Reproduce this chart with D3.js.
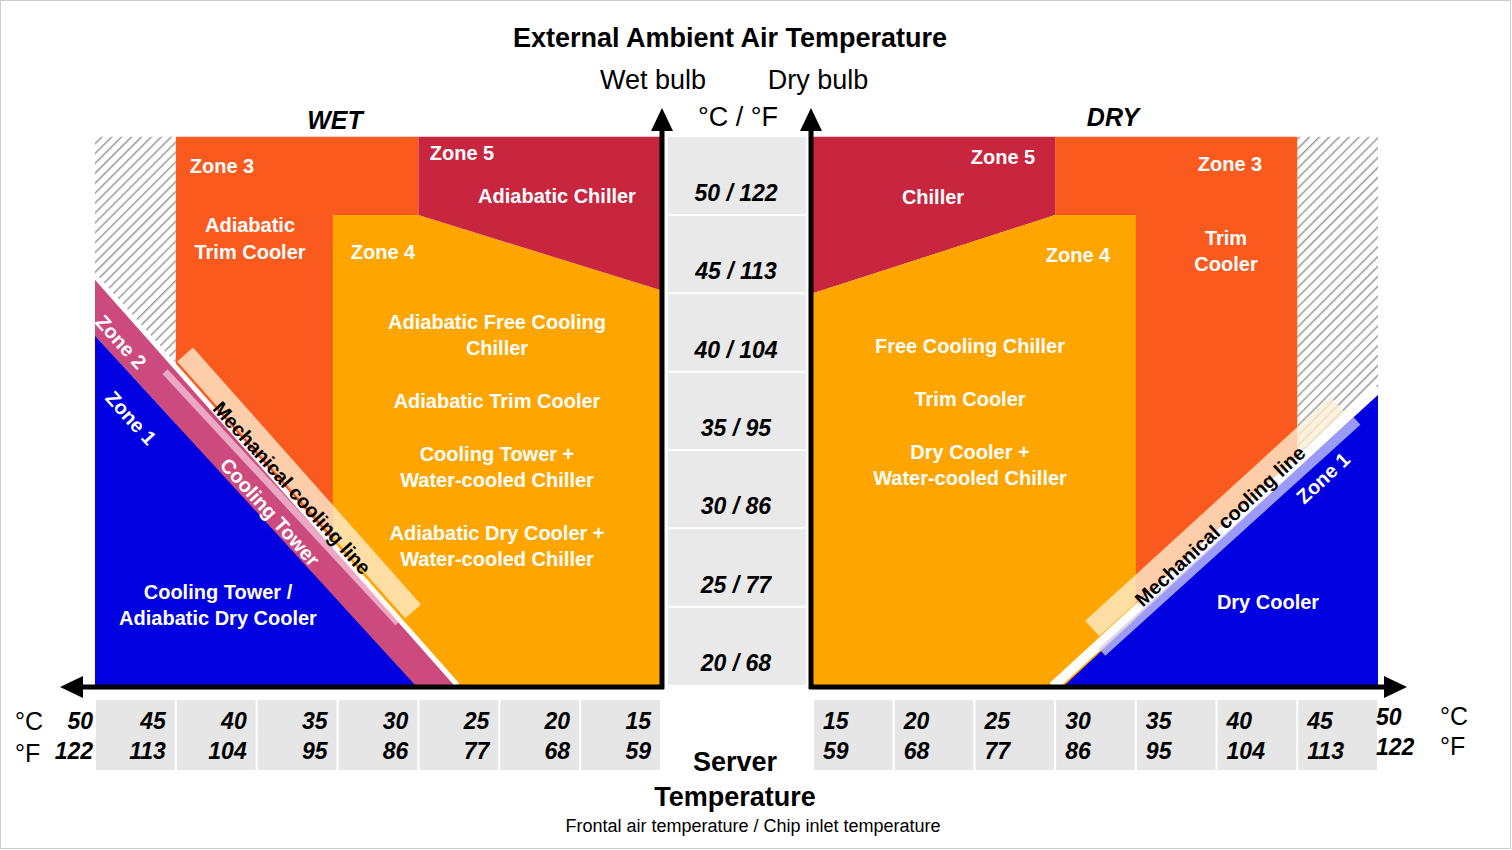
<!DOCTYPE html>
<html><head><meta charset="utf-8">
<script src="https://cdn.jsdelivr.net/npm/d3@7/dist/d3.min.js"></script>
<style>
body{margin:0;background:#fff}
svg{font-family:"Liberation Sans",Arial,sans-serif}
.w{fill:#fff;font-weight:bold;font-size:20px}
</style></head><body>
<script>
// --- data (server temp S, ambient temp T) ---
const ambientLabels = ['50 / 122','45 / 113','40 / 104','35 / 95','30 / 86','25 / 77','20 / 68']
const ambientTicks  = [50,45,40,35,30,25,20]
const serverC = [45,40,35,30,25,20,15]
const serverF = [113,104,95,86,77,68,59]

const leftZones = [
  {fill:'url(#hatch)', pts:[[50,20],[45,20],[45,55],[50,55]]},
  {fill:'#FA5A1E', pts:[[45,20],[30,20],[30,55],[45,55]]},
  {fill:'#FFA500', pts:[[35.3,50],[30,50],[15,45.2],[15,20],[35.3,20]]},
  {fill:'#C8253E', pts:[[30,55],[15,55],[15,45.2],[30,50]]},
  {fill:'#CC4A7E', pts:[[50,46.1],[27.6,20],[30.2,20],[50,42.3]]},
  {fill:'#0000E0', pts:[[50,42.3],[30.2,20],[50,20]]}
]
const leftBands = [
  {c:'#fff', w:5, p:[[50,46.1],[27.6,20]]},
  {c:'rgba(255,232,240,0.6)', w:7, p:[[45.67,40.0],[31.26,23.96]]},
  {c:'rgba(255,238,210,0.78)', w:21, p:[[44.43,41.1],[30.33,24.7]]}
]
const rightZones = [
  {fill:'url(#hatch)', pts:[[45,20],[50,20],[50,55],[45,55]]},
  {fill:'#FA5A1E', pts:[[30,20],[45,20],[45,55],[30,55]]},
  {fill:'#C8253E', pts:[[15,55],[30,55],[30,50],[15,45]]},
  {fill:'#FFA500', pts:[[15,45],[30,50],[35,50],[35,20],[15,20]]},
  {fill:'#0000E0', pts:[[30.6,20],[50,38.6],[50,20]]}
]
const rightBands = [
  {c:'#fff', w:10, p:[[29.87,19.9],[50,38.95]]},
  {c:'rgba(205,205,255,0.75)', w:10, p:[[32.9,22.1],[48.7,36.85]]},
  {c:'rgba(255,238,210,0.78)', w:21, p:[[32.3,23.6],[47.5,37.9]]}
]

const W = 1512, H = 850
const svg = d3.select('body').append('svg').attr('width',W).attr('height',H)
svg.append('rect').attr('x',0.5).attr('y',0.5).attr('width',W-2).attr('height',H-2).attr('fill','none').attr('stroke','#ccc')

const defs = svg.append('defs')
const pat = defs.append('pattern').attr('id','hatch').attr('patternUnits','userSpaceOnUse')
  .attr('width',7).attr('height',7).attr('patternTransform','rotate(45)')
pat.append('rect').attr('width',7).attr('height',7).attr('fill','#fff')
pat.append('line').attr('x1',0).attr('y1',0).attr('x2',0).attr('y2',7).attr('stroke','#9a9a9a').attr('stroke-width',3)

const y  = d3.scaleLinear().domain([20,50]).range([685,215])
const xL = d3.scaleLinear().domain([50,15]).range([95,661])
const xR = d3.scaleLinear().domain([15,50]).range([813,1378])

function drawSide(x, zones, bands, clipX) {
  const g = svg.append('g')
  g.selectAll('polygon.z').data(zones).join('polygon')
    .attr('points', d => d.pts.map(p => [x(p[0]), y(p[1])].join(',')).join(' '))
    .attr('fill', d => d.fill)
  g.selectAll('line.b').data(bands).join('line')
    .attr('x1', d => x(d.p[0][0])).attr('y1', d => y(d.p[0][1]))
    .attr('x2', d => x(d.p[1][0])).attr('y2', d => y(d.p[1][1]))
    .attr('stroke', d => d.c).attr('stroke-width', d => d.w)
  return g
}
drawSide(xL, leftZones, leftBands)
drawSide(xR, rightZones, rightBands)
// mask anything spilling below the axis
svg.append('rect').attr('x',60).attr('y',689).attr('width',1360).attr('height',12).attr('fill','#fff')

// center column
svg.append('rect').attr('x',668).attr('y',137).attr('width',138).attr('height',548).attr('fill','#e9e9e9')
svg.selectAll('line.sep').data(ambientTicks.slice(0,6)).join('line')
  .attr('x1',668).attr('x2',806).attr('y1',d=>y(d)).attr('y2',d=>y(d)).attr('stroke','#fff').attr('stroke-width',2)
svg.selectAll('text.amb').data(ambientTicks).join('text')
  .attr('x',736).attr('y',d=>y(d)-14).attr('text-anchor','middle')
  .attr('font-size',23).attr('font-weight','bold').attr('font-style','italic').text((d,i)=>ambientLabels[i])

// bottom tick cells
function ticks(x, anchorRight) {
  serverC.forEach((c,i) => {
    const a = anchorRight ? x(c+5) : x(c), b = anchorRight ? x(c) : x(c+5)
    const x0 = Math.min(a,b), x1 = Math.max(a,b)
    svg.append('rect').attr('x',x0+1).attr('y',700).attr('width',x1-x0-2).attr('height',70).attr('fill','#e6e6e6')
    const tx = anchorRight ? x1-10 : x0+10
    const anc = anchorRight ? 'end' : 'start'
    svg.append('text').attr('x',tx).attr('y',729).attr('text-anchor',anc).attr('font-size',23).attr('font-weight','bold').attr('font-style','italic').text(c)
    svg.append('text').attr('x',tx).attr('y',759).attr('text-anchor',anc).attr('font-size',23).attr('font-weight','bold').attr('font-style','italic').text(serverF[i])
  })
}
ticks(xL, true)
ticks(xR, false)
const bi = (t,xx,yy,anc)=>svg.append('text').attr('x',xx).attr('y',yy).attr('text-anchor',anc).attr('font-size',23).attr('font-weight','bold').attr('font-style','italic').text(t)
bi('50',93,729,'end'); bi('122',93,759,'end'); bi('50',1376,725,'start'); bi('122',1376,755,'start')
const nt = (t,xx,yy,fs,anc='start')=>svg.append('text').attr('x',xx).attr('y',yy).attr('text-anchor',anc).attr('font-size',fs).text(t)
nt('°C',15,730,25); nt('°F',15,762,25); nt('°C',1440,725,25); nt('°F',1440,755,25)

// axes with arrowheads
const ax = svg.append('g').attr('stroke','#000').attr('stroke-width',5)
ax.append('line').attr('x1',662).attr('y1',689).attr('x2',662).attr('y2',125)
ax.append('line').attr('x1',664).attr('y1',687).attr('x2',78).attr('y2',687)
ax.append('line').attr('x1',811).attr('y1',689).attr('x2',811).attr('y2',125)
ax.append('line').attr('x1',809).attr('y1',687).attr('x2',1390).attr('y2',687)
const head = pts => svg.append('polygon').attr('points',pts.map(p=>p.join(',')).join(' ')).attr('fill','#000')
head([[662,108],[651,131],[673,131]]); head([[811,108],[800,131],[822,131]])
head([[60,687],[83,676],[83,698]]); head([[1407,687],[1384,676],[1384,698]])

// titles
svg.append('text').attr('x',730).attr('y',47).attr('text-anchor','middle').attr('font-size',27).attr('font-weight','bold').text('External Ambient Air Temperature')
nt('Wet bulb',653,89,27,'middle'); nt('Dry bulb',818,89,27,'middle'); nt('°C / °F',738,126,27,'middle')
svg.append('text').attr('x',335).attr('y',129).attr('text-anchor','middle').attr('font-size',25).attr('font-weight','bold').attr('font-style','italic').text('WET')
svg.append('text').attr('x',1113).attr('y',126).attr('text-anchor','middle').attr('font-size',25).attr('font-weight','bold').attr('font-style','italic').text('DRY')
svg.append('text').attr('x',735).attr('y',771).attr('text-anchor','middle').attr('font-size',27).attr('font-weight','bold').text('Server')
svg.append('text').attr('x',735).attr('y',806).attr('text-anchor','middle').attr('font-size',27).attr('font-weight','bold').text('Temperature')
nt('Frontal air temperature / Chip inlet temperature',753,832,18,'middle')

// zone labels
const labels = [
  ['Zone 3',222,173],['Adiabatic',250,232],['Trim Cooler',250,259],
  ['Zone 5',462,160],['Adiabatic Chiller',557,203],['Zone 4',383,259],
  ['Adiabatic Free Cooling',497,329],['Chiller',497,355],['Adiabatic Trim Cooler',497,408],
  ['Cooling Tower +',497,461],['Water-cooled Chiller',497,487],['Adiabatic Dry Cooler +',497,540],['Water-cooled Chiller',497,566],
  ['Cooling Tower /',218,599],['Adiabatic Dry Cooler',218,625],
  ['Zone 5',1003,164],['Chiller',933,204],['Zone 3',1230,171],['Trim',1226,245],['Cooler',1226,271],
  ['Zone 4',1078,262],['Free Cooling Chiller',970,353],['Trim Cooler',970,406],['Dry Cooler +',970,459],
  ['Water-cooled Chiller',970,485],['Dry Cooler',1268,609]
]
svg.selectAll('text.lab').data(labels).join('text').attr('class','w')
  .attr('x',d=>d[1]).attr('y',d=>d[2]).attr('text-anchor','middle').text(d=>d[0])
const rot = [
  ['Zone 2',121,342,48,'#fff'],['Zone 1',131,418,48,'#fff'],['Cooling Tower',270,512,48,'#fff'],
  ['Mechanical cooling line',292,488,48,'#000'],
  ['Mechanical cooling line',1220,526,-43,'#000'],['Zone 1',1323,478,-43,'#fff']
]
svg.selectAll('text.rot').data(rot).join('text')
  .attr('transform',d=>`translate(${d[1]},${d[2]}) rotate(${d[3]})`).attr('text-anchor','middle').attr('dy','0.35em')
  .attr('font-size',20).attr('font-weight','bold').attr('fill',d=>d[4]).text(d=>d[0])
</script></body></html>
